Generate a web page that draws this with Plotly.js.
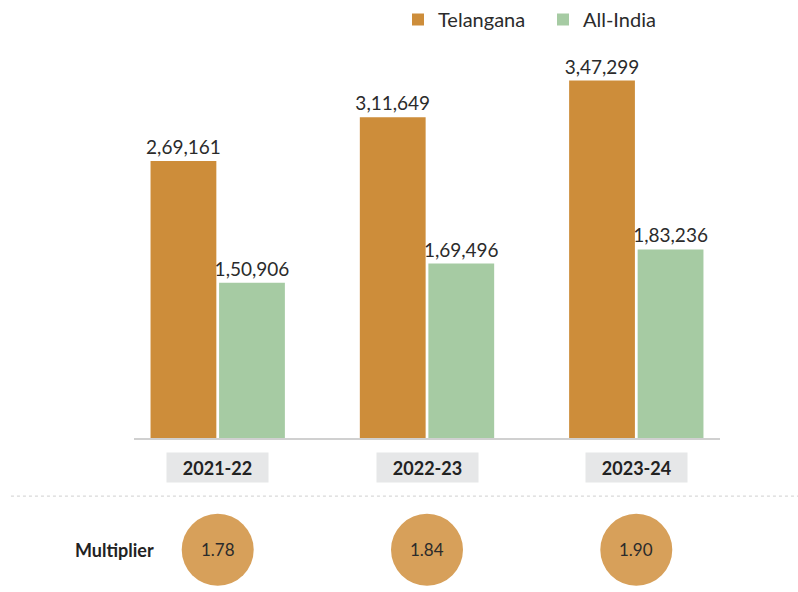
<!DOCTYPE html>
<html>
<head>
<meta charset="utf-8">
<script src="https://cdn.plot.ly/plotly-3.0.1.min.js"></script>
<style>
html,body{margin:0;padding:0;background:#fff;}
#chart{width:798px;height:592px;}
</style>
</head>
<body>
<div id="chart"></div>
<script>
const years = ["2021-22", "2022-23", "2023-24"];
const telangana = [269161, 311649, 347299];
const allIndia = [150906, 169496, 183236];
const multipliers = ["1.78", "1.84", "1.90"];

function indianFormat(n) {
  const s = String(Math.round(n));
  if (s.length <= 3) return s;
  const last3 = s.slice(-3);
  let rest = s.slice(0, -3);
  const parts = [];
  while (rest.length > 2) { parts.unshift(rest.slice(-2)); rest = rest.slice(0, -2); }
  if (rest.length) parts.unshift(rest);
  return parts.join(",") + "," + last3;
}

const FONT = "Lato, 'Open Sans', sans-serif";
const xIdx = years.map((_, i) => i);

const traces = [
  {
    type: "bar", name: "Telangana", x: xIdx, y: telangana,
    text: telangana.map(indianFormat), textposition: "outside",
    constraintext: "none", cliponaxis: false,
    textfont: {family: FONT, size: 19, color: "#2b2b2b"},
    marker: {color: "#cd8d3a"}, hoverinfo: "skip"
  },
  {
    type: "bar", name: "All-India", x: xIdx, y: allIndia,
    text: allIndia.map(indianFormat), textposition: "outside",
    constraintext: "none", cliponaxis: false,
    textfont: {family: FONT, size: 19, color: "#2b2b2b"},
    marker: {color: "#a6cba3"}, hoverinfo: "skip"
  }
];

const annotations = [];
const shapes = [];
const boxY = -0.073, circY = -0.281;
years.forEach((yr, i) => {
  annotations.push({
    x: i, xref: "x", y: boxY, yref: "paper", text: "<b>" + yr + "</b>",
    showarrow: false, bgcolor: "#e6e7e8", width: 99, height: 27,
    font: {family: FONT, size: 18, color: "#222"}, xanchor: "center", yanchor: "middle"
  });
  shapes.push({
    type: "circle", xref: "x", yref: "paper",
    xsizemode: "pixel", ysizemode: "pixel", xanchor: i, yanchor: circY,
    x0: -36, x1: 36, y0: -36, y1: 36,
    fillcolor: "#d7a05a", line: {width: 0}, layer: "below"
  });
  annotations.push({
    x: i, xref: "x", y: circY, yref: "paper", text: multipliers[i],
    showarrow: false, font: {family: FONT, size: 17, color: "#2b2b2b"},
    xanchor: "center", yanchor: "middle"
  });
});
annotations.push({
  x: 0.038, xref: "paper", y: circY, yref: "paper", text: "<b>Multiplier</b>",
  showarrow: false, xanchor: "right", yanchor: "middle",
  font: {family: FONT, size: 18, color: "#222"}
});
shapes.push({
  type: "line", xref: "paper", yref: "paper", x0: -0.21, x1: 1.14, y0: -0.146, y1: -0.146,
  line: {color: "#cfcfcf", width: 1, dash: "dot"}
});

const layout = {
  width: 798, height: 592,
  margin: {l: 134, r: 78, t: 40, b: 154, autoexpand: false},
  paper_bgcolor: "#ffffff", plot_bgcolor: "#ffffff",
  barmode: "group", bargap: 0.345, bargroupgap: 0.04,
  font: {family: FONT, color: "#222"},
  xaxis: {
    range: [-0.4, 2.4], showticklabels: false, ticks: "", showgrid: false,
    zeroline: false, showline: true, linecolor: "#d0d0d0", linewidth: 1.5, fixedrange: true
  },
  yaxis: {
    range: [0, 386700], visible: false, showgrid: false, zeroline: false, fixedrange: true
  },
  showlegend: true,
  legend: {
    orientation: "h", x: 0.4505, xanchor: "left", yref: "container", y: 1, yanchor: "top",
    font: {family: FONT, size: 20, color: "#2b2b2b"}, itemwidth: 30, traceorder: "normal",
    entrywidth: 100, entrywidthmode: "pixels"
  },
  shapes: shapes,
  annotations: annotations
};

Plotly.newPlot("chart", traces, layout, {displayModeBar: false, staticPlot: true});
</script>
</body>
</html>
